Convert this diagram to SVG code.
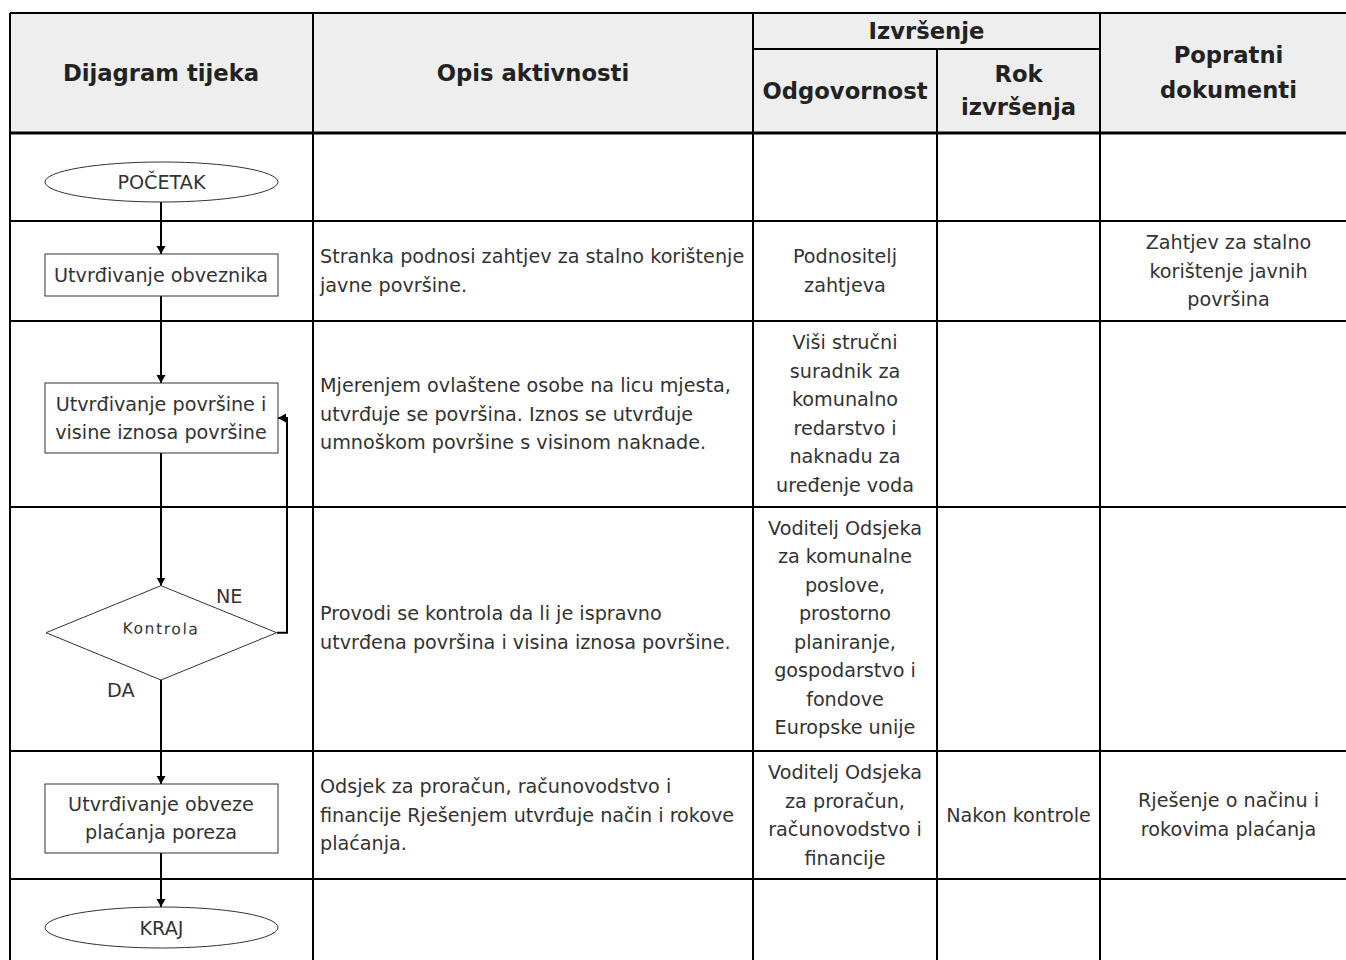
<svg xmlns="http://www.w3.org/2000/svg" width="1346" height="960" viewBox="0 0 1346 960">
<style>
.hd{font-family:"DejaVu Sans",sans-serif;font-weight:bold;font-size:22.7px;fill:#222;text-anchor:middle}
.tx{font-family:"DejaVu Sans",sans-serif;font-size:19.2px;fill:#333}
.c{text-anchor:middle}
.grid{stroke:#000;stroke-width:2;fill:none}
.node{fill:#fff;stroke:#333;stroke-width:1}
.conn{stroke:#000;stroke-width:2;fill:none}
</style>
<defs>
<marker id="ah" markerUnits="userSpaceOnUse" markerWidth="10" markerHeight="10" refX="8" refY="4.5" orient="auto">
<path d="M0,0 L8,4.5 L0,9 z" fill="#000"/>
</marker>
</defs>
<rect x="0" y="0" width="1346" height="960" fill="#fff"/>
<g id="table">
<rect x="10" y="13" width="1350" height="120" fill="#eeeeee"/>
<path class="grid" d="M10,13 H1360 M10,13 V960 M313,13 V960 M753,13 V960 M1100,13 V960 M937,49 V960 M753,49 H1100 M10,221 H1360 M10,321 H1360 M10,507 H1360 M10,751 H1360 M10,879 H1360"/>
<path d="M10,133 H1360" stroke="#000" stroke-width="3"/>
<text class="hd" x="161" y="80.7">Dijagram tijeka</text>
<text class="hd" x="533" y="80.7">Opis aktivnosti</text>
<text class="hd" x="926.5" y="39">Izvršenje</text>
<text class="hd" x="845" y="99">Odgovornost</text>
<text class="hd" x="1018.5" y="82">Rok</text>
<text class="hd" x="1018.5" y="115">izvršenja</text>
<text class="hd" x="1228.5" y="63">Popratni</text>
<text class="hd" x="1228.5" y="98">dokumenti</text>
</g>
<g id="cells">
<text class="tx" x="320" y="263">Stranka podnosi zahtjev za stalno korištenje</text>
<text class="tx" x="320" y="291.5">javne površine.</text>
<text class="tx c" x="845" y="263">Podnositelj</text>
<text class="tx c" x="845" y="291.5">zahtjeva</text>
<text class="tx c" x="1228.5" y="249">Zahtjev za stalno</text>
<text class="tx c" x="1228.5" y="277.5">korištenje javnih</text>
<text class="tx c" x="1228.5" y="306">površina</text>

<text class="tx" x="320" y="392">Mjerenjem ovlaštene osobe na licu mjesta,</text>
<text class="tx" x="320" y="420.5">utvrđuje se površina. Iznos se utvrđuje</text>
<text class="tx" x="320" y="449">umnoškom površine s visinom naknade.</text>
<text class="tx c" x="845" y="349">Viši stručni</text>
<text class="tx c" x="845" y="377.5">suradnik za</text>
<text class="tx c" x="845" y="406">komunalno</text>
<text class="tx c" x="845" y="434.5">redarstvo i</text>
<text class="tx c" x="845" y="463">naknadu za</text>
<text class="tx c" x="845" y="491.5">uređenje voda</text>

<text class="tx" x="320" y="620">Provodi se kontrola da li je ispravno</text>
<text class="tx" x="320" y="648.5">utvrđena površina i visina iznosa površine.</text>
<text class="tx c" x="845" y="534.5">Voditelj Odsjeka</text>
<text class="tx c" x="845" y="563">za komunalne</text>
<text class="tx c" x="845" y="591.5">poslove,</text>
<text class="tx c" x="845" y="620">prostorno</text>
<text class="tx c" x="845" y="648.5">planiranje,</text>
<text class="tx c" x="845" y="677">gospodarstvo i</text>
<text class="tx c" x="845" y="705.5">fondove</text>
<text class="tx c" x="845" y="734">Europske unije</text>

<text class="tx" x="320" y="793">Odsjek za proračun, računovodstvo i</text>
<text class="tx" x="320" y="821.5">financije Rješenjem utvrđuje način i rokove</text>
<text class="tx" x="320" y="850">plaćanja.</text>
<text class="tx c" x="845" y="779">Voditelj Odsjeka</text>
<text class="tx c" x="845" y="807.5">za proračun,</text>
<text class="tx c" x="845" y="836">računovodstvo i</text>
<text class="tx c" x="845" y="864.5">financije</text>
<text class="tx c" x="1018.5" y="821.5">Nakon kontrole</text>
<text class="tx c" x="1228.5" y="807">Rješenje o načinu i</text>
<text class="tx c" x="1228.5" y="835.5">rokovima plaćanja</text>
</g>
<g id="connectors">
<path class="conn" d="M161,202 V254" marker-end="url(#ah)"/>
<path class="conn" d="M161,296 V383" marker-end="url(#ah)"/>
<path class="conn" d="M161,453 V585.5" marker-end="url(#ah)"/>
<path class="conn" d="M161,680 V784" marker-end="url(#ah)"/>
<path class="conn" d="M161,853 V907" marker-end="url(#ah)"/>
<path class="conn" d="M277,632.7 H287 V418 H278" marker-end="url(#ah)"/>
<text class="tx" x="216" y="603">NE</text>
<text class="tx" x="107" y="697">DA</text>
</g>
<g id="start">
<ellipse class="node" cx="161.5" cy="182" rx="116.5" ry="20"/>
<text class="tx c" x="161.5" y="189">POČETAK</text>
</g>
<g id="obveznik">
<rect class="node" x="45" y="254" width="233" height="42"/>
<text class="tx c" x="161" y="281.5">Utvrđivanje obveznika</text>
</g>
<g id="povrsina">
<rect class="node" x="45" y="383" width="233" height="70"/>
<text class="tx c" x="161" y="410.5">Utvrđivanje površine i</text>
<text class="tx c" x="161" y="439">visine iznosa površine</text>
</g>
<g id="kontrola">
<polygon class="node" points="161,585.7 276.7,632.7 161,680 46,632.7"/>
<text x="161" y="634" font-family="DejaVu Sans, sans-serif" font-size="15.5" fill="#333" text-anchor="middle" letter-spacing="1.6" transform="rotate(0.8 161 630)">Kontrola</text>
</g>
<g id="obveza">
<rect class="node" x="45" y="784" width="233" height="69"/>
<text class="tx c" x="161" y="810.5">Utvrđivanje obveze</text>
<text class="tx c" x="161" y="839">plaćanja poreza</text>
</g>
<g id="kraj">
<ellipse class="node" cx="161.5" cy="927.5" rx="116.5" ry="20.5"/>
<text class="tx c" x="161.5" y="934.5">KRAJ</text>
</g>
</svg>
